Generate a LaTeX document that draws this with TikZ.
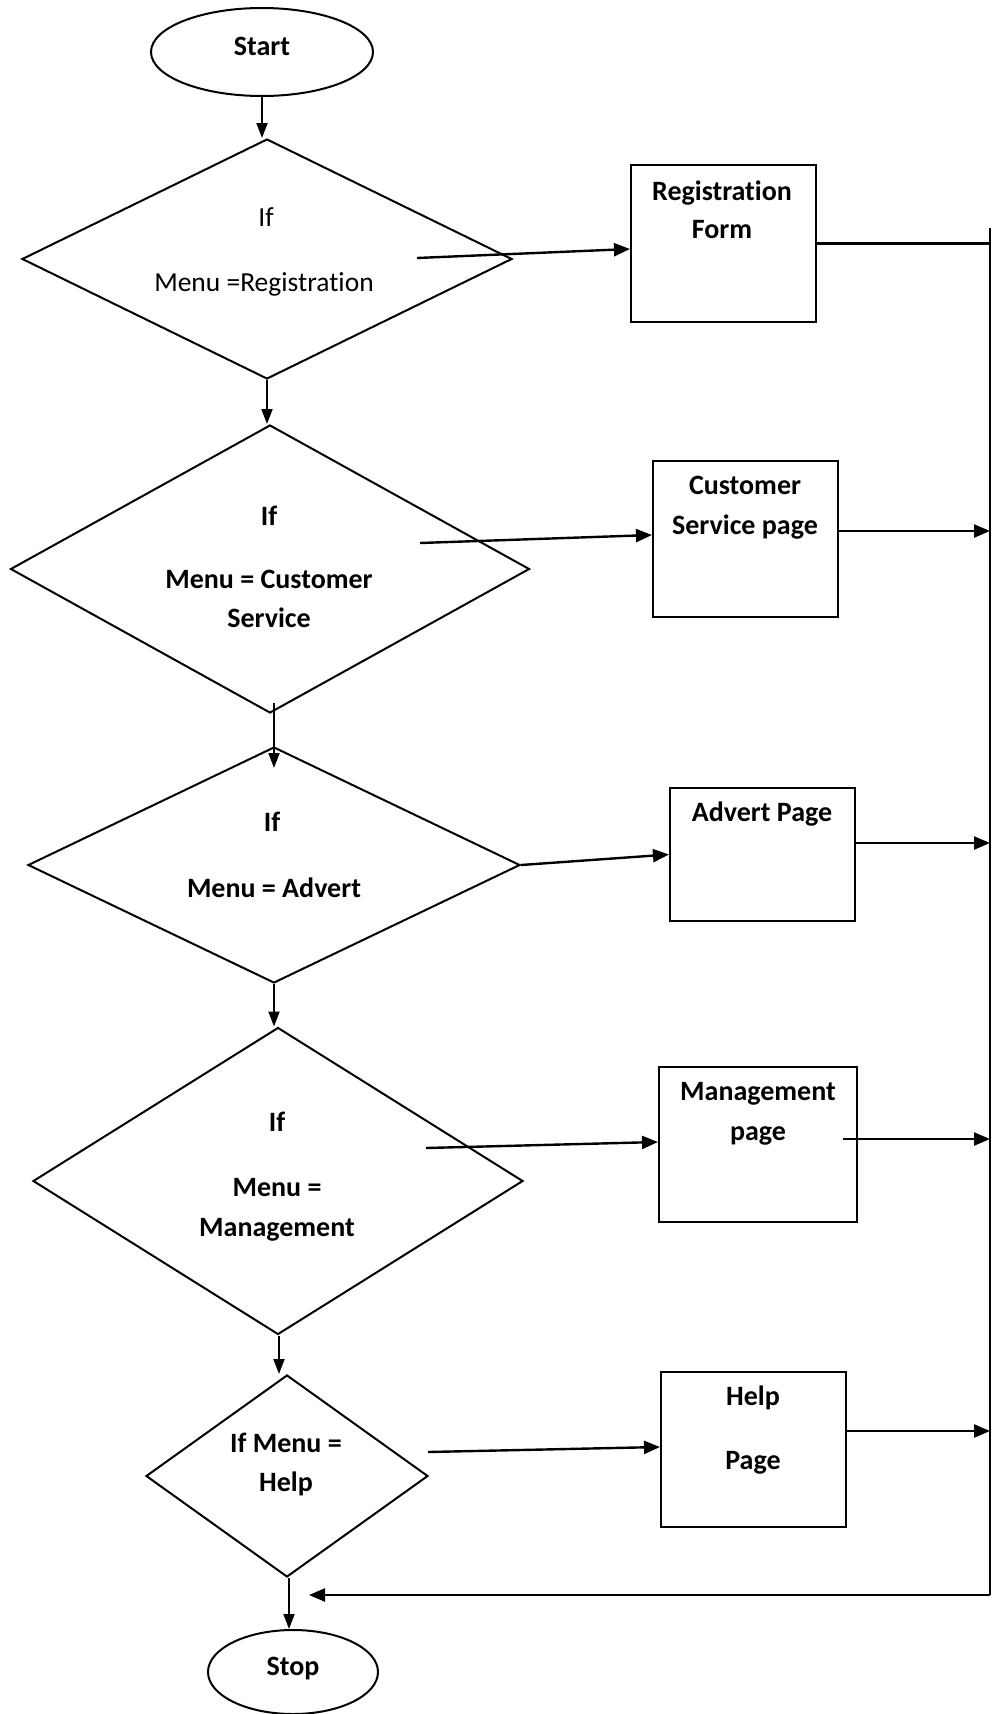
\documentclass[tikz,border=0pt]{standalone}
\usepackage{fontspec}
\setmainfont{Carlito}[Ligatures=NoCommon]
\usetikzlibrary{shapes.geometric,arrows.meta}
\begin{document}
\begin{tikzpicture}[x=1pt,y=-1pt,
  term/.style={ellipse, draw, line width=2pt, inner sep=0pt, font=\fontsize{28}{32}\selectfont\bfseries, text height=.62em, text depth=0pt},
  dec/.style={diamond, draw, line width=2pt, inner sep=0pt},
  pagebox/.style={rectangle, draw, line width=2.1pt, inner sep=0pt},
  txt/.style={inner sep=0pt, font=\fontsize{28}{32}\selectfont\bfseries, text height=.62em, text depth=0pt},
  txtr/.style={inner sep=0pt, font=\fontsize{27.5}{32}\selectfont, text height=.62em, text depth=0pt},
  harr/.style={line width=2.4pt, -{Triangle[length=16pt,width=13pt]}},
  varr/.style={line width=1.9pt, -{Triangle[length=15pt,width=11pt]}},
  hline/.style={line width=2.4pt}
]
\useasboundingbox (0,0) rectangle (994,1714);

% terminals
\node[term, minimum width=222, minimum height=88] (start) at (262,52) {Start};
\node[term, minimum width=170, minimum height=84] (stop) at (293,1672) {Stop};

% decisions
\node[dec, minimum width=490, minimum height=240] (d1) at (267,259) {};
\node[dec, minimum width=519, minimum height=288] (d2) at (270,569) {};
\node[dec, minimum width=492, minimum height=236] (d3) at (274,865) {};
\node[dec, minimum width=490, minimum height=307] (d4) at (278,1181) {};
\node[dec, minimum width=282, minimum height=202] (d5) at (287,1476) {};

\node[txtr] (d1a) at (266,223) {If};
\node[txtr] (d1b) at (264,288) {Menu =Registration};
\node[txt] (d2a) at (269,522) {If};
\node[txt] (d2b) at (269,585) {Menu = Customer};
\node[txt] (d2c) at (269,624) {Service};
\node[txt] (d3a) at (272,828) {If};
\node[txt] (d3b) at (274,894) {Menu = Advert};
\node[txt] (d4a) at (277,1128) {If};
\node[txt] (d4b) at (277,1193) {Menu =};
\node[txt] (d4c) at (277,1233) {Management};
\node[txt] (d5a) at (286,1449) {If Menu =};
\node[txt] (d5b) at (286,1488) {Help};

% page boxes
\node[pagebox, minimum width=185, minimum height=157] (b1) at (723.5,243.5) {};
\node[pagebox, minimum width=185, minimum height=156] (b2) at (745.5,539) {};
\node[pagebox, minimum width=185, minimum height=133] (b3) at (762.5,854.5) {};
\node[pagebox, minimum width=198, minimum height=155] (b4) at (758,1144.5) {};
\node[pagebox, minimum width=185, minimum height=155] (b5) at (753.5,1449.5) {};

\node[txt] (b1a) at (722,197) {Registration};
\node[txt] (b1b) at (722,235) {Form};
\node[txt] (b2a) at (745,491) {Customer};
\node[txt] (b2b) at (745,531) {Service page};
\node[txt] (b3a) at (762,818) {Advert Page};
\node[txt] (b4a) at (758,1097) {Management};
\node[txt] (b4b) at (758,1137) {page};
\node[txt] (b5a) at (753,1402) {Help};
\node[txt] (b5b) at (753,1466) {Page};

% collector line
\coordinate (rt) at (990,228);
\coordinate (rb) at (990,1595);
\draw[line width=2.8pt] (rt) -- (rb);

% helper coordinates
\coordinate (a1s) at (417,258);
\coordinate (a2s) at (420,543);
\coordinate (a4s) at (426,1148);
\coordinate (a5s) at (428,1452);
\coordinate (r4s) at (843,1139);
\coordinate (v3s) at (274,703);
\coordinate (v3e) at (274,768);
\coordinate (ret) at (309,1595);

% vertical flow
\draw[varr] (start.south) -- (start.south |- d1.north);
\draw[varr] (d1.south) -- (d1.south |- d2.north);
\draw[varr] (v3s) -- (v3e);
\draw[varr] (d3.south) -- (d3.south |- d4.north);
\draw[varr] ([xshift=1pt]d4.south) -- ([xshift=1pt]d4.south |- d5.north);
\draw[varr] ([xshift=2pt]d5.south) -- ([xshift=2pt]d5.south |- stop.north);

% decisions to pages
\draw[harr] (a1s) -- ([yshift=-5.5pt]b1.west);
\draw[harr] (a2s) -- ([yshift=4pt]b2.west);
\draw[harr] (d3.east) -- (b3.west);
\draw[harr] (a4s) -- ([yshift=2.5pt]b4.west);
\draw[harr] (a5s) -- ([yshift=2.5pt]b5.west);

% pages to collector
\draw[hline] (b1.east) -- (b1.east -| rt);
\draw[harr] ([yshift=8pt]b2.east) -- ([yshift=8pt]b2.east -| rt);
\draw[harr] ([yshift=11.5pt]b3.east) -- ([yshift=11.5pt]b3.east -| rt);
\draw[harr] (r4s) -- (r4s -| rt);
\draw[harr] ([yshift=18.5pt]b5.east) -- ([yshift=18.5pt]b5.east -| rt);

% return to stop
\draw[harr] (rb) -- (ret);
\end{tikzpicture}
\end{document}
